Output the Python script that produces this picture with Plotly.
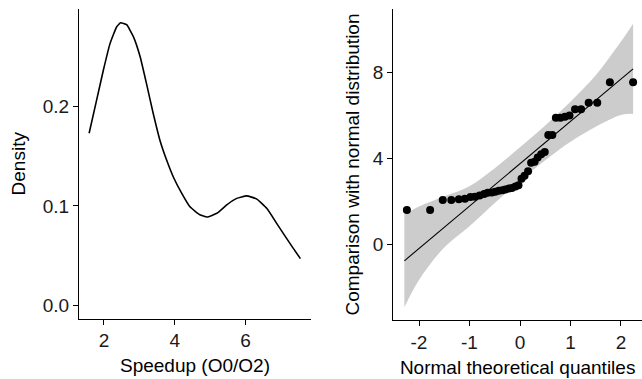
import plotly.graph_objects as go

W, H = 642, 379

# ---- Left panel: density curve
dens_x = [1.58, 1.79, 1.98, 2.17, 2.36, 2.47, 2.64, 2.83, 3.02, 3.20, 3.39, 3.58, 3.77, 3.96,
          4.19, 4.43, 4.71, 4.91, 5.19, 5.47, 5.75, 6.03, 6.31, 6.60, 6.88, 7.16, 7.35, 7.55]
dens_y = [0.173, 0.206, 0.236, 0.263, 0.280, 0.284, 0.282, 0.270, 0.250, 0.223, 0.193, 0.166,
          0.146, 0.129, 0.113, 0.099, 0.091, 0.0888, 0.0925, 0.101, 0.1075, 0.110, 0.107,
          0.0975, 0.0824, 0.0673, 0.0573, 0.047]
dens_xticks = [2, 4, 6]
dens_yticks = [0.0, 0.1, 0.2]

# ---- Right panel: QQ plot
qq_theoretical = [-2.24, -1.78, -1.53, -1.36, -1.21, -1.09, -0.98, -0.89, -0.80, -0.71,
                  -0.64, -0.56, -0.49, -0.42, -0.35, -0.29, -0.22, -0.16, -0.09, -0.03,
                  0.03, 0.09, 0.16, 0.22, 0.29, 0.35, 0.42, 0.49, 0.56, 0.64,
                  0.71, 0.80, 0.89, 0.98, 1.09, 1.21, 1.36, 1.53, 1.78, 2.24]
qq_sample = [1.60, 1.60, 2.07, 2.07, 2.10, 2.12, 2.20, 2.22, 2.28, 2.35,
             2.40, 2.42, 2.45, 2.50, 2.52, 2.55, 2.60, 2.62, 2.70, 2.75,
             3.05, 3.20, 3.40, 3.80, 3.85, 4.05, 4.20, 4.30, 5.10, 5.10,
             5.90, 5.90, 5.95, 6.00, 6.30, 6.30, 6.60, 6.60, 7.55, 7.55]
ref_x = [-2.29, 2.24]
ref_y = [-0.77, 8.18]
band_x = [-2.29, -2.0, -1.5, -1.0, -0.5, 0.0, 0.5, 1.0, 1.5, 2.0, 2.24]
band_upper = [1.40, 1.76, 2.24, 2.71, 3.55, 4.52, 5.54, 6.65, 7.88, 9.45, 10.28]
band_lower = [-2.94, -1.66, -0.15, 0.84, 1.92, 2.96, 3.92, 4.78, 5.48, 6.03, 6.08]
qq_xticks = [-2, -1, 0, 1, 2]
qq_xticklabels = ["-2", "-1", "0", "1", "2"]
qq_yticks = [0, 4, 8]

fig = go.Figure()

fig.add_trace(go.Scatter(x=dens_x, y=dens_y, mode="lines",
                         line=dict(color="black", width=1.6, shape="spline", smoothing=0.4),
                         xaxis="x", yaxis="y", showlegend=False, hoverinfo="skip"))

fig.add_trace(go.Scatter(x=band_x, y=band_lower, mode="lines",
                         line=dict(color="rgba(0,0,0,0)", width=0, shape="spline"),
                         xaxis="x2", yaxis="y2", showlegend=False, hoverinfo="skip"))
fig.add_trace(go.Scatter(x=band_x, y=band_upper, mode="lines", fill="tonexty",
                         fillcolor="#cccccc",
                         line=dict(color="rgba(0,0,0,0)", width=0, shape="spline"),
                         xaxis="x2", yaxis="y2", showlegend=False, hoverinfo="skip"))
fig.add_trace(go.Scatter(x=ref_x, y=ref_y, mode="lines",
                         line=dict(color="black", width=1.1),
                         xaxis="x2", yaxis="y2", showlegend=False, hoverinfo="skip"))
fig.add_trace(go.Scatter(x=qq_theoretical, y=qq_sample, mode="markers",
                         marker=dict(color="black", size=8),
                         xaxis="x2", yaxis="y2", showlegend=False))

FONT = "Liberation Sans, Arial, sans-serif"
tickfont = dict(family=FONT, size=19, color="#1a1a1a")
titlefont = dict(family=FONT, size=19, color="black")

common = dict(showgrid=False, zeroline=False, showline=True, linecolor="black", linewidth=1.2,
              ticks="outside", ticklen=5, tickwidth=1.2, tickcolor="black",
              tickfont=tickfont, automargin=False)

fig.update_layout(
    width=W, height=H,
    margin=dict(l=0, r=0, t=0, b=0),
    paper_bgcolor="white", plot_bgcolor="white",
    font=dict(family=FONT),
    xaxis=dict(domain=[79 / W, 311 / W], range=[1.294, 7.85], tickvals=dens_xticks,
               title=dict(text="Speedup (O0/O2)", font=titlefont, standoff=8),
               anchor="y", **common),
    yaxis=dict(domain=[1 - 318.5 / H, 1 - 9 / H], range=[-0.0132, 0.2978], tickvals=dens_yticks,
               tickformat=".1f",
               title=dict(text="Density", font=titlefont, standoff=12),
               anchor="x", **common),
    xaxis2=dict(domain=[393.3 / W, 1.0], range=[-2.509, 2.416], tickvals=qq_xticks,
                ticktext=qq_xticklabels,
                title=dict(text="Normal theoretical quantiles", font=titlefont, standoff=8),
                anchor="y2", **common),
    yaxis2=dict(domain=[1 - 320 / H, 1 - 9 / H], range=[-3.53, 10.97], tickvals=qq_yticks,
                title=dict(text="Comparison with normal distribution", font=titlefont, standoff=8),
                anchor="x2", **common),
)

fig.write_html("out.html", config={"displayModeBar": False},
               post_script="document.body.style.margin='0';document.body.style.overflow='hidden';")
